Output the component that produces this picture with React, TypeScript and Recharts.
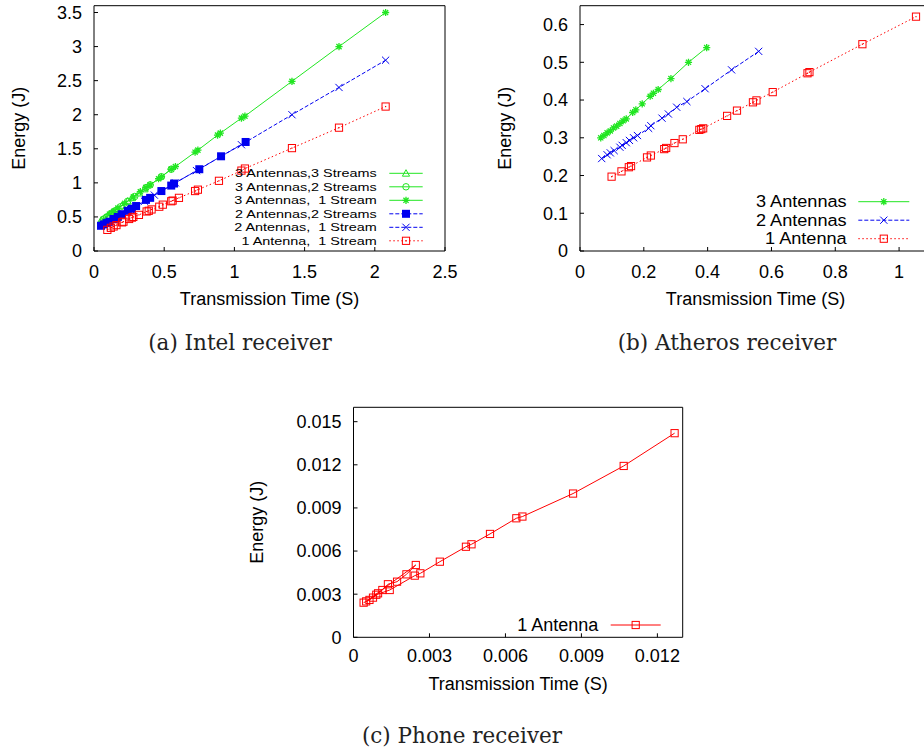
import React from "react";
import { Legend, Line, LineChart, XAxis, YAxis } from "recharts";

// (a) Intel receiver: transmission time (s) vs energy (J)
const intel3a3sTime = [0.05, 0.06, 0.08, 0.1, 0.13, 0.16, 0.2, 0.24, 0.27, 0.32, 0.36];
const intel3a3sEnergy = [0.45, 0.46, 0.49, 0.52, 0.57, 0.61, 0.67, 0.73, 0.78, 0.85, 0.91];
const intel3a2sTime = [0.07, 0.09, 0.12, 0.15, 0.19, 0.24, 0.29, 0.37, 0.4, 0.48, 0.55];
const intel3a2sEnergy = [0.47, 0.5, 0.55, 0.59, 0.65, 0.73, 0.8, 0.93, 0.97, 1.09, 1.2];
const intel3a1sTime = [0.11, 0.14, 0.17, 0.22, 0.28, 0.33, 0.37, 0.4, 0.46, 0.48, 0.55, 0.58, 0.72, 0.74, 0.88, 0.9, 1.05, 1.075, 1.41, 1.745, 2.077];
const intel3a1sEnergy = [0.54, 0.58, 0.63, 0.7, 0.79, 0.87, 0.93, 0.97, 1.06, 1.09, 1.2, 1.24, 1.45, 1.48, 1.7, 1.73, 1.95, 1.98, 2.49, 3.0, 3.5];
const intel2a2sTime = [0.05, 0.07, 0.09, 0.11, 0.14, 0.17, 0.2, 0.24, 0.27, 0.3, 0.37, 0.4, 0.48, 0.55, 0.57, 0.75, 0.905, 1.08];
const intel2a2sEnergy = [0.37, 0.39, 0.41, 0.43, 0.47, 0.5, 0.54, 0.59, 0.62, 0.66, 0.75, 0.78, 0.88, 0.96, 0.99, 1.2, 1.39, 1.6];
const intel2a1sTime = [0.1, 0.14, 0.19, 0.26, 0.36, 0.43, 0.58, 0.73, 1.05, 1.41, 1.745, 2.077];
const intel2a1sEnergy = [0.42, 0.47, 0.53, 0.61, 0.73, 0.82, 1.0, 1.18, 1.56, 2.0, 2.4, 2.8];
const intel1a1sTime = [0.095, 0.12, 0.14, 0.16, 0.2, 0.21, 0.25, 0.27, 0.28, 0.32, 0.375, 0.39, 0.41, 0.465, 0.49, 0.55, 0.56, 0.605, 0.72, 0.74, 0.89, 1.05, 1.075, 1.41, 1.745, 2.077];
const intel1a1sEnergy = [0.31, 0.34, 0.36, 0.38, 0.42, 0.43, 0.47, 0.49, 0.5, 0.53, 0.58, 0.59, 0.61, 0.65, 0.68, 0.73, 0.74, 0.78, 0.88, 0.9, 1.03, 1.18, 1.21, 1.51, 1.81, 2.12];

// (b) Atheros receiver
const ath3aTime = [0.065, 0.075, 0.085, 0.095, 0.105, 0.115, 0.125, 0.135, 0.145, 0.165, 0.175, 0.195, 0.22, 0.23, 0.245, 0.285, 0.34, 0.397];
const ath3aEnergy = [0.3, 0.306, 0.313, 0.318, 0.326, 0.331, 0.338, 0.345, 0.35, 0.367, 0.374, 0.39, 0.41, 0.418, 0.428, 0.457, 0.5, 0.539];
const ath2aTime = [0.068, 0.085, 0.095, 0.107, 0.125, 0.132, 0.145, 0.155, 0.168, 0.18, 0.215, 0.222, 0.257, 0.277, 0.303, 0.335, 0.392, 0.475, 0.56];
const ath2aEnergy = [0.245, 0.255, 0.26, 0.266, 0.275, 0.28, 0.287, 0.293, 0.3, 0.306, 0.325, 0.332, 0.352, 0.363, 0.381, 0.396, 0.43, 0.48, 0.529];
const ath1aTime = [0.099, 0.13, 0.153, 0.16, 0.21, 0.222, 0.264, 0.27, 0.296, 0.322, 0.374, 0.38, 0.386, 0.461, 0.492, 0.542, 0.553, 0.604, 0.713, 0.719, 0.885, 1.053];
const ath1aEnergy = [0.197, 0.211, 0.222, 0.225, 0.248, 0.253, 0.27, 0.273, 0.286, 0.296, 0.321, 0.323, 0.325, 0.358, 0.372, 0.394, 0.399, 0.421, 0.471, 0.474, 0.548, 0.621];

// (c) Phone receiver (kept in measurement order, so the line doubles back)
const phoneTime = [0.0004, 0.00063, 0.00077, 0.00097, 0.00114, 0.00136, 0.00172, 0.00209, 0.00246, 0.0005, 0.0009, 0.00143, 0.00242, 0.00264, 0.00341, 0.00444, 0.00466, 0.00539, 0.00643, 0.00667, 0.00867, 0.01067, 0.01268];
const phoneEnergy = [0.00241, 0.0026, 0.00276, 0.00306, 0.00329, 0.00369, 0.00387, 0.00438, 0.00503, 0.0025, 0.00296, 0.00329, 0.00429, 0.00445, 0.00526, 0.0063, 0.00647, 0.00719, 0.00828, 0.0084, 0.01, 0.01192, 0.0142];

const intelXTicks = [0, 0.5, 1, 1.5, 2, 2.5];
const intelYTicks = [0, 0.5, 1, 1.5, 2, 2.5, 3, 3.5];
const athXTicks = [0, 0.2, 0.4, 0.6, 0.8, 1];
const athYTicks = [0, 0.1, 0.2, 0.3, 0.4, 0.5, 0.6];
const phoneXTicks = [0, 0.003, 0.006, 0.009, 0.012];
const phoneYTicks = [0, 0.003, 0.006, 0.009, 0.012, 0.015];

const GREEN = "#22e622";
const BLUE = "#0000f0";
const RED = "#ff0000";
const DASHED = "4 2";
const DOTTED = "1.5 2.5";
const SANS = "'Liberation Sans', Arial, Helvetica, sans-serif";

type Pt = { x: number; y: number };
type MarkerKind = "triangle" | "circle" | "star" | "fsquare" | "cross" | "dsquare" | "square";
type Series = { name: string; points: Pt[]; color: string; dash?: string; marker: MarkerKind };

const zip = (xs: number[], ys: number[]): Pt[] => xs.map((x, i) => ({ x, y: ys[i] }));

const intelSeries: Series[] = [
  { name: "3 Antennas,3 Streams", points: zip(intel3a3sTime, intel3a3sEnergy), color: GREEN, marker: "triangle" },
  { name: "3 Antennas,2 Streams", points: zip(intel3a2sTime, intel3a2sEnergy), color: GREEN, marker: "circle" },
  { name: "3 Antennas,  1 Stream", points: zip(intel3a1sTime, intel3a1sEnergy), color: GREEN, marker: "star" },
  { name: "2 Antennas,2 Streams", points: zip(intel2a2sTime, intel2a2sEnergy), color: BLUE, dash: DASHED, marker: "fsquare" },
  { name: "2 Antennas,  1 Stream", points: zip(intel2a1sTime, intel2a1sEnergy), color: BLUE, dash: DASHED, marker: "cross" },
  { name: "1 Antenna,  1 Stream", points: zip(intel1a1sTime, intel1a1sEnergy), color: RED, dash: DOTTED, marker: "dsquare" },
];

const atherosSeries: Series[] = [
  { name: "3 Antennas", points: zip(ath3aTime, ath3aEnergy), color: GREEN, marker: "star" },
  { name: "2 Antennas", points: zip(ath2aTime, ath2aEnergy), color: BLUE, dash: DASHED, marker: "cross" },
  { name: "1 Antenna", points: zip(ath1aTime, ath1aEnergy), color: RED, dash: DOTTED, marker: "dsquare" },
];

const phoneSeries: Series[] = [
  { name: "1 Antenna", points: zip(phoneTime, phoneEnergy), color: RED, marker: "square" },
];

function Marker({ kind, cx, cy, color }: { kind: MarkerKind; cx: number; cy: number; color: string }) {
  const s = 3.6;
  const d = s * 0.72;
  switch (kind) {
    case "triangle":
      return <path d={`M${cx},${cy - s}L${cx + s},${cy + s * 0.8}L${cx - s},${cy + s * 0.8}Z`} fill="none" stroke={color} />;
    case "circle":
      return <circle cx={cx} cy={cy} r={s * 0.9} fill="none" stroke={color} />;
    case "star":
      return (
        <path
          d={`M${cx - s},${cy}H${cx + s}M${cx},${cy - s}V${cy + s}M${cx - d},${cy - d}L${cx + d},${cy + d}M${cx - d},${cy + d}L${cx + d},${cy - d}`}
          stroke={color}
          strokeWidth={1.3}
          fill="none"
        />
      );
    case "cross":
      return <path d={`M${cx - s},${cy - s}L${cx + s},${cy + s}M${cx - s},${cy + s}L${cx + s},${cy - s}`} stroke={color} fill="none" />;
    case "fsquare":
      return <rect x={cx - 4} y={cy - 4} width={8} height={8} fill={color} />;
    case "dsquare":
      return (
        <g>
          <rect x={cx - s} y={cy - s} width={2 * s} height={2 * s} fill="none" stroke={color} />
          <rect x={cx - 0.6} y={cy - 0.6} width={1.2} height={1.2} fill={color} />
        </g>
      );
    default:
      return <rect x={cx - s} y={cy - s} width={2 * s} height={2 * s} fill="none" stroke={color} />;
  }
}

type LegendLayout = {
  width: number;
  height: number;
  textX: number;
  lineX1: number;
  lineX2: number;
  y0: number;
  step: number;
  fontSize: number;
  stretch: number;
};

function KeyBox({ series, layout }: { series: Series[]; layout: LegendLayout }) {
  const mx = (layout.lineX1 + layout.lineX2) / 2;
  return (
    <svg width={layout.width} height={layout.height} style={{ display: "block" }}>
      {series.map((s, i) => {
        const y = layout.y0 + i * layout.step;
        return (
          <g key={s.name}>
            <g transform={`scale(${layout.stretch},1)`}>
              <text
                x={layout.textX / layout.stretch}
                y={y}
                textAnchor="end"
                dominantBaseline="central"
                fontSize={layout.fontSize}
                fontFamily={SANS}
                fill="#000"
                style={{ whiteSpace: "pre" }}
              >
                {s.name}
              </text>
            </g>
            <line x1={layout.lineX1} x2={layout.lineX2} y1={y} y2={y} stroke={s.color} strokeDasharray={s.dash} />
            <Marker kind={s.marker} cx={mx} cy={y} color={s.color} />
          </g>
        );
      })}
    </svg>
  );
}

type PanelProps = {
  left: number;
  top: number;
  width: number;
  height: number;
  margin: { top: number; right: number; bottom: number; left: number };
  yAxisWidth: number;
  xAxisHeight: number;
  xDomain: [number, number];
  yDomain: [number, number];
  xTicks: number[];
  yTicks: number[];
  xTickMargin: number;
  yTitleOffset: number;
  xTitleOffset: number;
  series: Series[];
  legend: LegendLayout;
  legendPos: { left: number; top: number };
};

function Panel(p: PanelProps) {
  const tickStyle = { fontSize: 18, fill: "#000", fontFamily: SANS };
  const frame = { stroke: "#000", strokeWidth: 1 };
  return (
    <div style={{ position: "absolute", left: p.left, top: p.top }}>
      <LineChart width={p.width} height={p.height} margin={p.margin}>
        <XAxis
          xAxisId="b"
          type="number"
          dataKey="x"
          domain={p.xDomain}
          ticks={p.xTicks}
          interval={0}
          allowDataOverflow
          height={p.xAxisHeight}
          tickSize={-4}
          tickMargin={p.xTickMargin}
          tick={tickStyle}
          axisLine={frame}
          tickLine={frame}
          label={{ value: "Transmission Time (S)", position: "insideBottom", offset: p.xTitleOffset, fontSize: 18, fill: "#000", fontFamily: SANS }}
        />
        <XAxis
          xAxisId="t"
          orientation="top"
          type="number"
          dataKey="x"
          domain={p.xDomain}
          ticks={p.xTicks}
          interval={0}
          allowDataOverflow
          height={1}
          tickSize={-4}
          tick={false}
          axisLine={frame}
          tickLine={frame}
        />
        <YAxis
          yAxisId="l"
          type="number"
          dataKey="y"
          domain={p.yDomain}
          ticks={p.yTicks}
          interval={0}
          allowDataOverflow
          width={p.yAxisWidth}
          tickSize={-4}
          tickMargin={16}
          tick={tickStyle}
          axisLine={frame}
          tickLine={frame}
          label={{ value: "Energy (J)", angle: -90, position: "insideLeft", offset: p.yTitleOffset, fontSize: 18, fill: "#000", fontFamily: SANS, style: { textAnchor: "middle" } }}
        />
        <YAxis
          yAxisId="r"
          orientation="right"
          type="number"
          dataKey="y"
          domain={p.yDomain}
          ticks={p.yTicks}
          interval={0}
          allowDataOverflow
          width={1}
          tickSize={-4}
          tick={false}
          axisLine={frame}
          tickLine={frame}
        />
        {p.series.map((s) => (
          <Line
            key={s.name}
            xAxisId="b"
            yAxisId="l"
            data={s.points}
            dataKey="y"
            name={s.name}
            type="linear"
            stroke={s.color}
            strokeWidth={1}
            strokeDasharray={s.dash}
            isAnimationActive={false}
            activeDot={false}
            dot={(d: any) => <Marker key={`${s.name}-${d.index}`} kind={s.marker} cx={d.cx} cy={d.cy} color={s.color} />}
          />
        ))}
        <Legend
          layout="horizontal"
          verticalAlign="middle"
          align="center"
          wrapperStyle={{ left: p.legendPos.left, top: p.legendPos.top, width: p.legend.width, height: p.legend.height }}
          content={() => <KeyBox series={p.series} layout={p.legend} />}
        />
      </LineChart>
    </div>
  );
}

const captionStyle: React.CSSProperties = {
  position: "absolute",
  width: 300,
  textAlign: "center",
  fontFamily: "'DejaVu Serif', serif",
  fontSize: 21.5,
  lineHeight: "26px",
  color: "#222",
};

export default function App() {
  return (
    <div style={{ position: "absolute", left: 0, top: 0, width: 924, height: 755, overflow: "hidden", background: "#fff" }}>
      <Panel
        left={0}
        top={0}
        width={460}
        height={320}
        margin={{ top: 4.7, right: 14, bottom: 0, left: 0 }}
        yAxisWidth={94}
        xAxisHeight={69}
        xDomain={[0, 2.5]}
        yDomain={[0, 3.6]}
        xTicks={intelXTicks}
        yTicks={intelYTicks}
        xTickMargin={18.3}
        yTitleOffset={19}
        xTitleOffset={15.5}
        series={intelSeries}
        legend={{ width: 200, height: 90, textX: 146.7, lineX1: 159.3, lineX2: 192.7, y0: 10.3, step: 13.5, fontSize: 11.8, stretch: 1.22 }}
        legendPos={{ left: 230, top: 163 }}
      />
      <Panel
        left={460}
        top={0}
        width={500}
        height={320}
        margin={{ top: 4.7, right: 28, bottom: 0, left: 0 }}
        yAxisWidth={120}
        xAxisHeight={69}
        xDomain={[0, 1.1]}
        yDomain={[0, 0.65]}
        xTicks={athXTicks}
        yTicks={athYTicks}
        xTickMargin={18.3}
        yTitleOffset={45}
        xTitleOffset={15.5}
        series={atherosSeries}
        legend={{ width: 200, height: 60, textX: 116.7, lineX1: 128.3, lineX2: 179.3, y0: 11.7, step: 18.5, fontSize: 16.5, stretch: 1.1 }}
        legendPos={{ left: 270, top: 190 }}
      />
      <Panel
        left={240}
        top={400}
        width={460}
        height={320}
        margin={{ top: 6.3, right: 16.3, bottom: 0, left: 0 }}
        yAxisWidth={113.5}
        xAxisHeight={82.7}
        xDomain={[0, 0.013]}
        yDomain={[0, 0.016]}
        xTicks={phoneXTicks}
        yTicks={phoneYTicks}
        xTickMargin={16.3}
        yTitleOffset={16.7}
        xTitleOffset={30.2}
        series={phoneSeries}
        legend={{ width: 180, height: 26, textX: 98.3, lineX1: 110.7, lineX2: 160.7, y0: 13, step: 18, fontSize: 18, stretch: 1 }}
        legendPos={{ left: 260, top: 212 }}
      />
      <div style={{ ...captionStyle, left: 90, top: 330 }}>(a) Intel receiver</div>
      <div style={{ ...captionStyle, left: 577, top: 330 }}>(b) Atheros receiver</div>
      <div style={{ ...captionStyle, left: 312, top: 723 }}>(c) Phone receiver</div>
    </div>
  );
}
